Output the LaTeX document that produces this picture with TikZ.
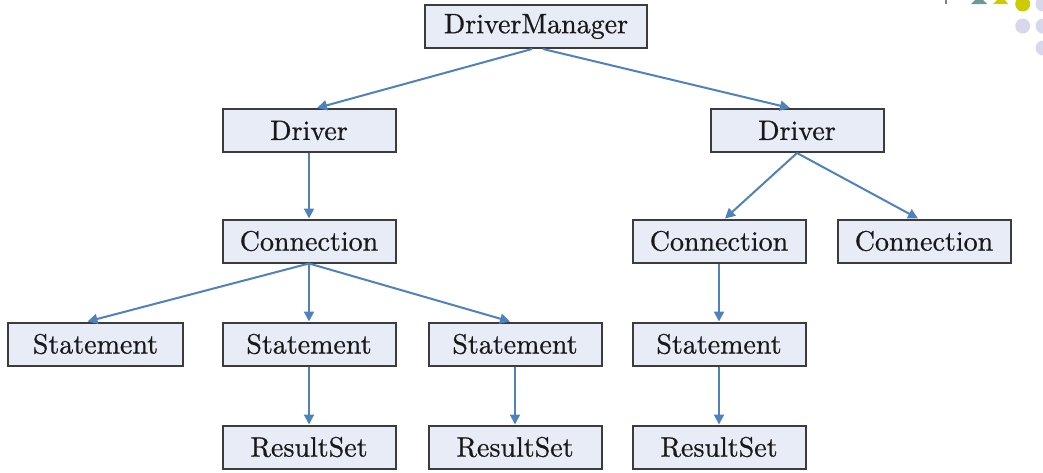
\documentclass[tikz,border=0pt]{standalone}
\usepackage{fontspec}
\newfontfamily\boxfont{lmroman10-regular.otf}[FakeBold=0.7]
\usetikzlibrary{positioning,arrows.meta}
\definecolor{boxfill}{RGB}{232,236,246}
\definecolor{boxline}{RGB}{60,60,60}
\definecolor{linkblue}{RGB}{79,129,189}
\definecolor{decoteal}{RGB}{104,154,154}
\definecolor{decoyellow}{RGB}{204,204,0}
\definecolor{decolilac}{RGB}{216,216,236}
\tikzset{>={Triangle[length=10pt,width=10pt]},
  jdbcbox/.style={draw=boxline,fill=boxfill,line width=2pt,text=black!90,
    minimum width=173pt,minimum height=43pt,inner sep=0pt,
    font=\boxfont\fontsize{28}{33}\selectfont},
  link/.style={->,draw=linkblue,line width=2pt}}

\begin{document}
\begin{tikzpicture}[x=1pt,y=-1pt]
\useasboundingbox (0,0) rectangle (1043,472);
% corner decoration
\draw[gray,line width=2pt] (946,0) -- (946,4);
\fill[decoteal] (971,4) -- (987,4) -- (983,0) -- (975,0) -- cycle;
\fill[decoyellow] (993,4) -- (1008,4) -- (1005,0) -- (997,0) -- cycle;
\fill[decoyellow] (1022.7,4) circle [radius=7.5];
\fill[decolilac] (1043,4) circle [radius=7.5];
\fill[decolilac] (1022.7,26) circle [radius=7.5];
\fill[decolilac] (1043,26) circle [radius=7.5];
\fill[decolilac] (1043,48) circle [radius=7.5];
% tree
\node[jdbcbox,minimum width=222pt] (manager) at (536,26.5) {DriverManager};
\node[jdbcbox] (driverA) at (309,130.5) {Driver};
\node[jdbcbox] (driverB) at (797,130.5) {Driver};
\node[jdbcbox] (connA) at (309,241) {Connection};
\node[jdbcbox] (connB) at (719,241) {Connection};
\node[jdbcbox] (connC) at (924,241) {Connection};
\node[jdbcbox,minimum width=175pt] (stmtA) at (95.5,344) {Statement};
\node[jdbcbox] (stmtB) at (309,344) {Statement};
\node[jdbcbox] (stmtC) at (515,344) {Statement};
\node[jdbcbox] (stmtD) at (719,344) {Statement};
\node[jdbcbox] (rsA) at (309,447) {ResultSet};
\node[jdbcbox] (rsB) at (515,447) {ResultSet};
\node[jdbcbox] (rsC) at (719,447) {ResultSet};
\draw[link] ([xshift=-4pt]manager.south) -- ([xshift=8pt]driverA.north);
\draw[link] ([xshift=7pt]manager.south) -- ([xshift=-7pt]driverB.north);
\draw[link] (driverA.south) -- (connA.north);
\draw[link] (driverB.south) -- ([xshift=6pt]connB.north);
\draw[link] (driverB.south) -- ([xshift=-6pt]connC.north);
\draw[link] (connA.south) -- ([xshift=-8pt]stmtA.north);
\draw[link] (connA.south) -- (stmtB.north);
\draw[link] (connA.south) -- ([xshift=-5pt]stmtC.north);
\draw[link] (connB.south) -- (stmtD.north);
\draw[link] (stmtB.south) -- (rsA.north);
\draw[link] (stmtC.south) -- (rsB.north);
\draw[link] (stmtD.south) -- (rsC.north);
\end{tikzpicture}
\end{document}
